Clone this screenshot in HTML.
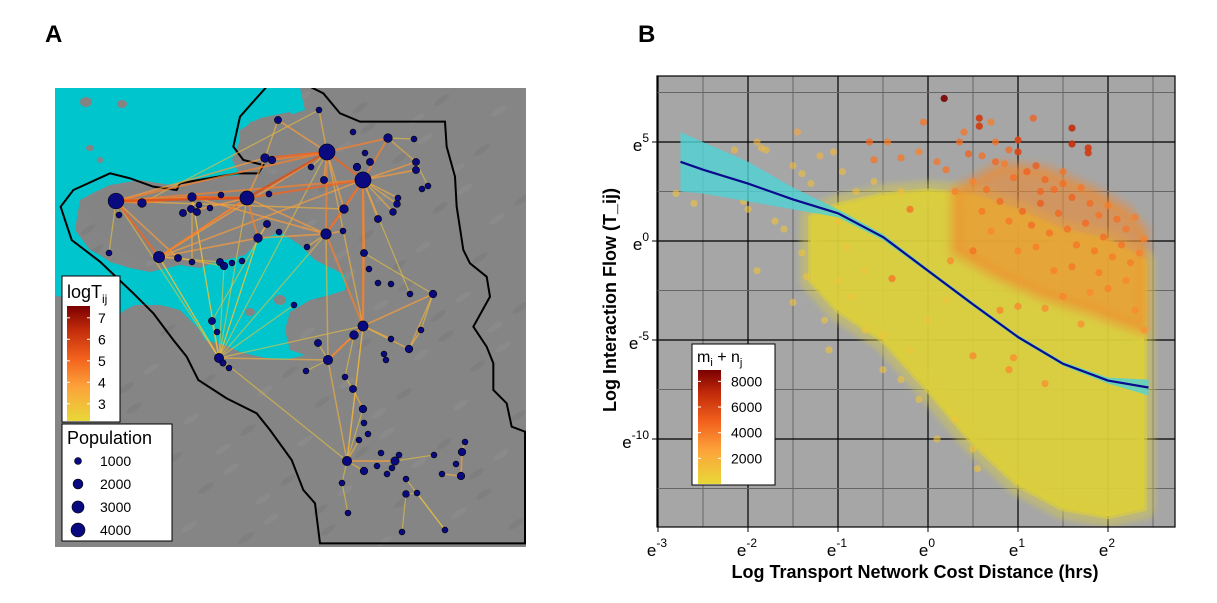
<!DOCTYPE html>
<html><head><meta charset="utf-8"><style>
html,body{margin:0;padding:0;background:#fff;}
svg{display:block;font-family:"Liberation Sans",Arial,sans-serif;}
</style></head><body>
<svg id="fig" width="1217" height="603" viewBox="0 0 1217 603" xmlns="http://www.w3.org/2000/svg">
<defs>
<linearGradient id="gradT" x1="0" y1="1" x2="0" y2="0">
<stop offset="0" stop-color="#e8d838"/><stop offset="0.3" stop-color="#fda23a"/><stop offset="0.55" stop-color="#f2601c"/><stop offset="0.8" stop-color="#c02a0a"/><stop offset="1" stop-color="#7a0000"/>
</linearGradient>
<clipPath id="clipB"><rect x="657" y="76" width="518" height="451"/></clipPath>
<clipPath id="clipA"><rect x="55" y="88" width="471" height="459"/></clipPath>
<filter id="blur3"><feGaussianBlur stdDeviation="3"/></filter>
</defs>
<text x="45" y="42" font-size="24" font-weight="bold">A</text>
<text x="638" y="42" font-size="24" font-weight="bold">B</text>
<g id="mapA" clip-path="url(#clipA)"></g>
<g id="plotB"></g>
</svg>
<script>
const NS="http://www.w3.org/2000/svg";
function mk(tag,attrs,parent){const e=document.createElementNS(NS,tag);for(const k in attrs)e.setAttribute(k,attrs[k]);if(parent)parent.appendChild(e);return e;}
function lerp(a,b,t){return a+(b-a)*t;}
function hex(c){return [parseInt(c.substr(1,2),16),parseInt(c.substr(3,2),16),parseInt(c.substr(5,2),16)];}
function ramp(stops,t){t=Math.max(0,Math.min(1,t));for(let i=1;i<stops.length;i++){if(t<=stops[i][0]){const u=(t-stops[i-1][0])/(stops[i][0]-stops[i-1][0]);const a=hex(stops[i-1][1]),b=hex(stops[i][1]);return "rgb("+a.map((v,k)=>Math.round(lerp(v,b[k],u))).join(",")+")";}}return stops[stops.length-1][1];}
const STOPS=[[0,"#e8d838"],[0.3,"#fda23a"],[0.55,"#f2601c"],[0.8,"#c02a0a"],[1,"#7a0000"]];

/* ===== Panel B data ===== */
const xTicks=[-3,-2,-1,0,1,2];
const yTicks=[5,0,-5,-10];
const smoothX=[-2.75,-2.5,-2,-1.5,-1,-0.5,0,0.5,1,1.5,2,2.45];
const smoothY=[4.0,3.6,2.9,2.1,1.4,0.2,-1.5,-3.2,-4.85,-6.2,-7.05,-7.4];
const ciHi=[5.5,5.0,4.0,2.7,1.6,0.35,-1.4,-3.1,-4.75,-6.1,-6.9,-7.0];
const ciLo=[2.5,2.4,2.0,1.6,1.2,0.05,-1.6,-3.3,-4.95,-6.3,-7.2,-7.8];
const cloudX=[-1.3,-1.0,-0.5,0,0.5,1.0,1.5,2.0,2.4];
const cloudTop=[1.2,1.8,2.3,2.5,2.3,1.5,0.5,0.0,-1.0];
const cloudBot=[-2.0,-3.5,-5.0,-7.5,-10.2,-12.3,-13.5,-13.9,-13.5];
const hotX=[0.3,0.8,1.3,1.8,2.2,2.4];
const hotTop=[2.5,3.8,3.6,2.6,1.6,0.5];
const hotBot=[-0.5,-1.8,-2.8,-3.5,-4.2,-4.5];
const orangeX=[0.35,0.45,0.6,0.75,0.85,0.95,1.1,1.2,1.3,1.4,1.5,1.6,1.7,1.8,1.9,2.0,2.1,2.2,2.3,2.4,0.5,0.65,0.8,0.9,1.05,1.15,1.25,1.35,1.45,1.55,1.65,1.75,1.85,1.95,2.05,2.15,2.25,2.35,1.2,1.0,0.7,0.6,0.3,0.2,0.1,-0.1,-0.3,-0.45,-0.65,-0.6,-0.2,0.5,1.4,1.6,1.9,2.2,2.0,1.8,1.5,1.3,1.0,0.8,0.5,2.3,2.4,1.7,0.25,-0.4,0.95,1.3,0.9,1.25,1.5,0.9,0.75,0.4,-0.05,0.18,0.57,0.57,1.6,1.6,1.78,1.78,1.0,1.0,1.17,0.7];
const orangeY=[5.0,4.4,4.3,4.0,3.9,3.2,3.5,3.8,3.1,2.6,2.9,2.2,2.7,1.9,1.3,1.8,1.1,0.6,1.2,0.1,3.0,2.6,2.0,1.0,1.5,0.8,1.9,0.4,1.4,0.6,-0.2,0.9,-0.5,0.2,-0.8,-0.2,-1.1,-0.6,-0.3,-0.5,0.5,1.5,2.5,3.6,4.0,4.5,4.2,5.0,5.0,4.1,1.6,-0.5,-1.5,-1.3,-1.6,-2.0,-2.4,-2.6,-2.8,-3.4,-3.3,-3.5,-5.8,-3.5,-4.5,-4.2,-1.0,-1.9,-5.9,-7.2,-6.5,2.5,3.5,4.6,5.0,5.5,6.0,7.2,6.2,5.8,5.7,4.9,4.7,4.45,5.1,4.5,6.2,6.0];
const orangeV=[4500,5000,4500,4800,4000,4500,5000,5200,4800,4600,4500,5000,4200,4600,4400,4000,4500,4200,4000,3800,3800,4500,4700,4200,4900,4600,5200,4400,4800,4500,4300,4700,4200,4600,4100,4400,4000,3900,4000,3800,3700,4200,3900,4300,4200,3800,4200,3900,4600,4300,4500,4400,3900,4200,4000,3700,3900,3600,3800,3600,3700,3800,3700,3600,3300,3400,3600,4300,3500,3400,3600,4800,4300,4600,4300,4300,4200,9000,6500,6500,7000,7000,6500,6500,6000,6000,5000,4000];
const yellowX=[-2.8,-2.6,-2.15,-2.05,-1.9,-1.85,-1.8,-2.0,-1.5,-1.45,-1.4,-1.3,-1.6,-1.9,-1.4,-1.35,-1.5,-1.15,-1.1,-1.2,-1.05,-0.95,-0.8,-1.0,-0.9,-0.7,-0.85,-0.7,-0.5,-0.5,-0.3,-0.1,0.1,-0.2,0.3,0.5,0.55,-1.2,-0.6,-0.3,-1.7,-2.3,-1.0,-0.6,0.0,0.2];
const yellowY=[2.4,1.9,4.6,2.0,5.0,4.7,4.6,1.6,3.8,5.5,3.4,2.9,0.6,-1.5,-0.6,-1.8,-3.1,-4.0,-5.5,4.3,4.5,3.5,2.5,1.0,-0.3,-1.5,-2.8,-4.5,-4.8,-6.5,-7.0,-8.0,-10.0,-5.5,-9.0,-10.5,-11.5,1.5,3.0,2.5,1.0,3.4,-2.0,0.5,-4.0,-3.0];
const yellowV=[1000,1000,1500,1000,1800,1500,1500,1000,1500,2500,1200,1300,1000,1000,1000,1000,1000,1000,1000,1800,1600,1400,1300,1100,1000,1000,1000,1000,1000,1000,1000,1000,1000,1000,1000,1000,1000,1100,1200,1400,1000,1100,1000,1000,1000,1000];
const legendVals=[8000,6000,4000,2000];

const X=v=>928+90*v, Y=v=>241-19.8*v;
const B=document.getElementById('plotB');
mk('rect',{x:657,y:76,width:518,height:451,fill:'#a6a6a6'},B);
const grid=mk('g',{'clip-path':'url(#clipB)'},B);


for(let v=-3;v<=2.6;v+=0.5){const maj=Math.abs(v-Math.round(v))<1e-6;mk('line',{x1:X(v),x2:X(v),y1:76,y2:527,stroke:maj?'#000':'#666','stroke-width':maj?1.2:1},grid);}
for(let v=7.5;v>=-12.6;v-=2.5){const maj=Math.abs(v/5-Math.round(v/5))<1e-6;mk('line',{x1:657,x2:1175,y1:Y(v),y2:Y(v),stroke:maj?'#000':'#666','stroke-width':maj?1.2:1},grid);}
const data=mk('g',{'clip-path':'url(#clipB)'},B);
function poly(xs,top,bot){return xs.map((x,i)=>X(x)+","+Y(top[i])).concat(xs.slice().reverse().map((x,i)=>X(x)+","+Y(bot[xs.length-1-i]))).join(" ");}
const halo=mk('polygon',{points:poly(cloudX,cloudTop,cloudBot),fill:'#d8cc48','fill-opacity':0.45,stroke:'#d8cc48','stroke-opacity':0.45,'stroke-width':22,'stroke-linejoin':'round',filter:'url(#blur3)'},data);


const cl=mk('polygon',{points:poly(cloudX,cloudTop,cloudBot),fill:'#dccf3c','fill-opacity':0.9,stroke:'#dccf3c','stroke-opacity':0.6,'stroke-width':6,'stroke-linejoin':'round'},data);


const hot=mk('polygon',{points:poly(hotX,hotTop,hotBot),fill:'#ee8a30','fill-opacity':0.6,stroke:'#ee8a30','stroke-opacity':0.35,'stroke-width':14,'stroke-linejoin':'round',filter:'url(#blur3)'},data);


function dot(x,y,v,op){const c=mk('circle',{cx:X(x),cy:Y(y),r:3.6,fill:ramp(STOPS,v/9000),'fill-opacity':op},data);return c;}
yellowX.forEach((x,i)=>{const c=dot(x,yellowY[i],yellowV[i],0.6);});
orangeX.forEach((x,i)=>{const c=dot(x,orangeY[i],orangeV[i],orangeV[i]>5500?0.9:0.75);});
const bd=mk('polygon',{points:poly(smoothX,ciHi,ciLo),fill:'#4fd3d6','fill-opacity':0.8},data);


const ln=mk('polyline',{points:smoothX.map((x,i)=>X(x)+","+Y(smoothY[i])).join(" "),fill:'none',stroke:'#0a0a8c','stroke-width':2.2},data);


mk('rect',{x:657,y:76,width:518,height:451,fill:'none',stroke:'#000','stroke-width':1.2},B);
xTicks.forEach(v=>{mk('line',{x1:X(v),x2:X(v),y1:527,y2:532,stroke:'#000'},B);
 const t=mk('text',{x:X(v)-1,y:556,'font-size':17,'text-anchor':'middle'},B);t.textContent='e';
 
 const s=mk('tspan',{dy:-9,'font-size':12},t);s.textContent=String(v);});
yTicks.forEach(v=>{mk('line',{x1:652,x2:657,y1:Y(v),y2:Y(v),stroke:'#000'},B);
 const t=mk('text',{x:649,y:Y(v)+9,'font-size':17,'text-anchor':'end'},B);
 
 const a=mk('tspan',{},t);a.textContent='e';const s=mk('tspan',{dy:-9,'font-size':12},t);s.textContent=String(v);});
const xt=mk('text',{x:915,y:578,'font-size':18,'font-weight':'bold','text-anchor':'middle'},B);xt.textContent='Log Transport Network Cost Distance (hrs)';

const yt=mk('text',{x:0,y:0,'font-size':18,'font-weight':'bold','text-anchor':'middle',transform:'translate(616,300) rotate(-90)'},B);yt.textContent='Log Interaction Flow (T_ij)';

const lg=mk('g',{},B);

mk('rect',{x:692,y:344,width:83,height:141,fill:'#fff',stroke:'#000'},lg);
const lt=mk('text',{x:697,y:362,'font-size':16},lg);
lt.innerHTML='m<tspan font-size="11" dy="4">i</tspan><tspan dy="-4"> + n</tspan><tspan font-size="11" dy="4">j</tspan>';
mk('rect',{x:698,y:370,width:23,height:114,fill:'url(#gradT)'},lg);
const LY=v=>484-v*0.01283;
legendVals.forEach(v=>{mk('line',{x1:698,x2:701,y1:LY(v),y2:LY(v),stroke:'#fff'},lg);mk('line',{x1:718,x2:721,y1:LY(v),y2:LY(v),stroke:'#fff'},lg);
 const t=mk('text',{x:731,y:LY(v)+5,'font-size':14},lg);t.textContent=v;});

/* ===== Panel A data ===== */
const nodeX=[116,247,327,363,159,326,363,219,328,347,395,142,192,265,272,278,319,388,414,416,416,428,422,398,397,393,378,344,370,365,357,353,324,311,269,267,258,279,343,307,364,369,378,391,410,433,421,391,409,384,386,354,318,294,306,345,353,363,364,368,359,381,399,364,377,387,392,434,465,462,456,461,442,342,348,406,406,417,402,445,183,191,197,199,210,221,119,109,178,192,220,224,232,242,212,217,223,229];
const nodeY=[201,198,152,180,257,234,326,358,360,461,461,203,197,158,160,120,110,138,139,162,170,186,189,198,204,212,219,209,162,153,167,132,180,167,194,224,238,232,231,247,253,269,283,284,294,294,330,339,349,354,360,335,343,305,371,377,389,409,423,434,440,453,455,471,466,474,468,455,442,452,464,476,474,483,513,479,494,493,532,530,213,209,212,205,208,195,215,253,258,262,262,266,263,261,321,332,363,368];
const nodePop=[4300,3500,4500,4500,2200,1900,1800,1500,1500,1500,1200,1300,1300,1300,1000,900,600,1300,600,900,900,600,600,600,800,800,900,1300,900,600,1000,600,900,600,600,900,1300,600,600,600,900,600,600,600,600,1000,600,600,1000,600,600,1300,900,600,600,600,900,1000,600,600,600,600,600,1000,600,600,600,600,600,1000,600,1000,600,600,600,600,800,600,600,600,900,900,900,600,600,600,600,600,900,600,900,1000,600,600,900,600,700,600];
const edgeFrom=[0,0,0,0,0,0,0,0,0,0,1,1,1,1,1,1,1,2,2,2,2,2,2,2,2,2,3,3,3,3,3,3,3,3,3,4,4,4,4,4,4,5,5,5,5,5,6,6,6,6,6,6,7,7,7,7,7,7,7,7,8,8,8,8,9,9,9,9,9,10,10,10,69,68,72,75,76,77,76,74,45,45,17,17,19,16,15,13,35,11,12,51,55,56,57,46,46,7,12,88,4,6,40,3,3,5,1,2,3,5,12,36,91,94,53,7,7,2,0];
const edgeTo=[1,11,4,12,2,3,88,87,86,7,2,3,12,4,36,5,13,3,13,15,17,5,27,32,33,16,5,17,19,20,6,27,26,23,40,88,7,36,1,2,3,6,36,38,39,12,8,45,51,48,9,47,8,94,4,1,12,36,5,2,9,51,54,52,10,63,60,73,6,62,67,66,71,69,71,79,78,79,77,73,48,40,18,19,21,11,13,0,36,12,1,55,56,57,9,48,45,97,89,91,90,40,3,24,25,27,80,14,44,8,7,7,7,35,7,6,9,6,27];
const edgeLogT=[5.5,4.5,5,4.5,4.5,4.5,4,3,3,3,5.5,5,5,4.5,4.5,4,4,5,5,4,4.5,4.5,4,4,3.5,3.5,5,4.5,4,4,4.5,4,4,3.5,4,4,3,4,4.5,4,4,4.5,4,4,3.5,4,4.5,4,4,3.5,3.5,3.5,3.5,3.5,3,3,3,3,3,3,3.5,4,3,3,4,3.5,3.5,3,3,3.5,3,3,4,4,3.5,3,3,3,3,3,3.5,3,3,3.5,3,3,3.5,4,3.5,4.5,5,3,3,3.5,3,3.5,3,3,3.5,3.5,3,4.5,4.5,3.5,3.5,4,4,4.5,3,3.5,3,3,3,3,3,3,3,3.5,3.5];
const logTTicks=[7,6,5,4,3];
const popLegend=[1000,2000,3000,4000];

const A=document.getElementById('mapA');
mk('rect',{x:55,y:88,width:471,height:459,fill:'#858585'},A);
for(let i=0;i<120;i++){const gx=58+(i*97)%466, gy=92+(i*61)%452;mk('ellipse',{cx:gx,cy:gy,rx:9,ry:3,fill:(i%2?'#999':'#747474'),'fill-opacity':0.3,transform:'rotate(-35 '+gx+' '+gy+')'},A);}
const water=[[55,88],[300,88],[305,110],[290,115],[270,118],[250,122],[240,140],[232,160],[240,175],[200,180],[170,185],[140,180],[110,185],[95,192],[80,200],[75,230],[90,250],[100,255],[110,262],[130,268],[150,272],[180,265],[200,268],[215,262],[225,260],[245,255],[260,240],[280,232],[300,245],[315,260],[345,275],[345,290],[330,295],[310,300],[290,312],[285,330],[290,350],[305,355],[285,360],[265,358],[240,352],[225,345],[205,340],[200,330],[180,310],[160,305],[135,305],[125,310],[115,318],[95,318],[80,308],[70,300],[55,295]];
const wp=mk('polygon',{points:water.map(p=>p.join(",")).join(" "),fill:'#00c5cd'},A);

const isl1=[[85,205],[100,192],[130,190],[160,185],[200,183],[235,180],[255,170],[280,175],[310,185],[315,215],[300,228],[280,224],[262,240],[245,250],[225,256],[200,262],[180,262],[160,262],[140,258],[120,250],[105,235],[95,225]];
const isl2=[[240,130],[260,118],[290,112],[300,125],[305,140],[300,150],[280,155],[255,160],[240,150]];
[isl1,isl2].forEach(p=>{const g=mk('polygon',{points:p.map(q=>q.join(",")).join(" "),fill:'#848484'},A);});
[[86,102,6,5],[122,104,5,4],[90,148,4,3],[100,160,3,3],[280,300,6,5],[250,312,5,4]].forEach(b=>mk('ellipse',{cx:b[0],cy:b[1],rx:b[2],ry:b[3],fill:'#848484'},A));
const bnd=[[680,20],[810,20],[850,40],[900,100],[960,125],[1215,125],[1220,200],[1245,290],[1250,380],[1270,510],[1290,550],[1340,590],[1350,650],[1300,740],[1340,800],[1360,850],[1360,930],[1400,970],[1415,1040],[1455,1055],[1455,1390],[840,1390],[825,1270],[790,1230],[755,1140],[690,1050],[650,1000],[560,955],[475,900],[440,830],[400,780],[340,700],[280,640],[180,545],[95,480],[75,420],[62,380],[100,330],[210,280],[270,295],[340,320],[410,330],[420,310],[590,280],[655,280],[670,255],[610,240],[580,200],[600,110],[680,20]];
const bl=mk('polyline',{points:bnd.map(p=>(p[0]/3+40)+","+(p[1]/3+80)).join(" "),fill:'none',stroke:'#000','stroke-width':2},A);

const eg=mk('g',{},A);

const order=edgeLogT.map((v,i)=>i).sort((a,b)=>edgeLogT[a]-edgeLogT[b]);
order.forEach(i=>{const a=edgeFrom[i],b=edgeTo[i],t=(edgeLogT[i]-2.5)/4.7;
 const e=mk('line',{x1:nodeX[a],y1:nodeY[a],x2:nodeX[b],y2:nodeY[b],stroke:ramp(STOPS,t),'stroke-width':1+t*2.2,'stroke-opacity':0.55+t*0.4},eg);
 });
nodeX.forEach((x,i)=>{const c=mk('circle',{cx:x,cy:nodeY[i],r:1.2*Math.sqrt(nodePop[i]/100),fill:'#0a0a80',stroke:'#000','stroke-width':0.6},A);
 });
const L1=mk('g',{},document.getElementById('fig'));

mk('rect',{x:62,y:276,width:58,height:146,fill:'#fff',stroke:'#000'},L1);
const l1t=mk('text',{x:67,y:298,'font-size':18},L1);l1t.innerHTML='logT<tspan font-size="12" dy="5">ij</tspan>';
mk('rect',{x:67,y:306,width:23,height:115,fill:'url(#gradT)'},L1);
const TY=v=>421-(v-2.2)*21.5;
logTTicks.forEach(v=>{mk('line',{x1:67,x2:70,y1:TY(v),y2:TY(v),stroke:'#fff'},L1);mk('line',{x1:87,x2:90,y1:TY(v),y2:TY(v),stroke:'#fff'},L1);
 const t=mk('text',{x:98,y:TY(v)+5,'font-size':14},L1);t.textContent=v;});
const L2=mk('g',{},document.getElementById('fig'));

mk('rect',{x:62,y:424,width:110,height:117,fill:'#fff',stroke:'#000'},L2);
const l2t=mk('text',{x:67,y:444,'font-size':18},L2);l2t.textContent='Population';
popLegend.forEach((p,i)=>{const y=461+i*23;mk('circle',{cx:78,cy:y,r:1.2*Math.sqrt(p/100)*0.92,fill:'#0a0a80',stroke:'#000','stroke-width':0.6},L2);
 const t=mk('text',{x:100,y:y+5,'font-size':14},L2);t.textContent=p;});
</script>
</body></html>
